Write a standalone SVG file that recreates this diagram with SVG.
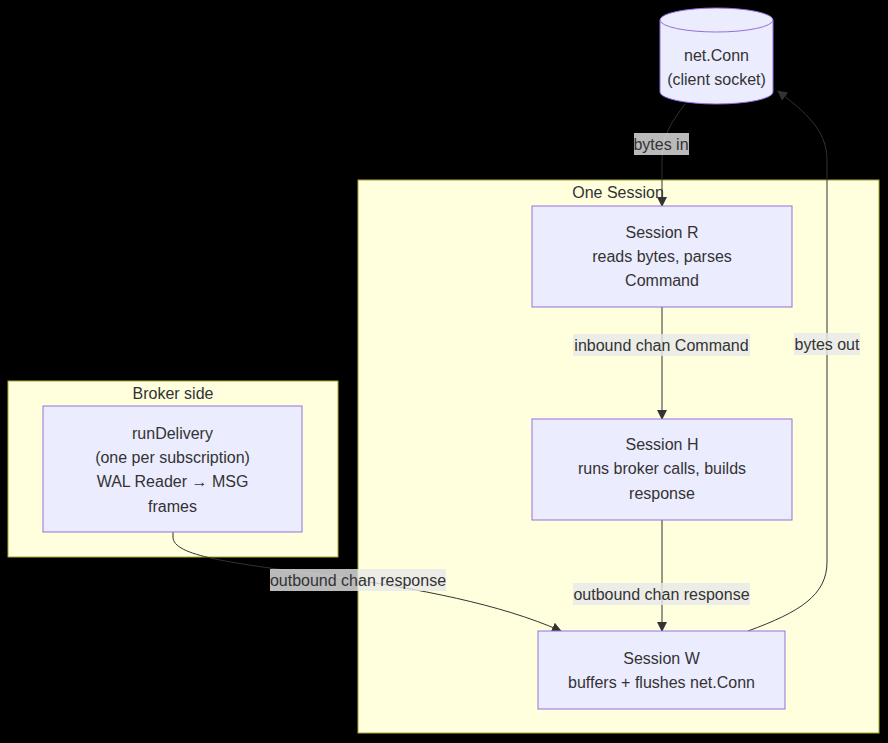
<svg xmlns="http://www.w3.org/2000/svg" width="888" height="743" viewBox="0 0 888 743">
<style>
text{font-family:"Liberation Sans",Arial,sans-serif;font-size:16px;fill:#333;text-anchor:middle}
.cl{fill:#ffffde;stroke:#aaaa33;stroke-width:1}
.nd{fill:#ececff;stroke:#9370db;stroke-width:1}
.ed{fill:none;stroke:#333;stroke-width:1;marker-end:url(#ah)}
.lb{fill:#e8e8e8;opacity:0.8}
</style>
<defs>
<marker id="ah" markerUnits="userSpaceOnUse" markerWidth="10" markerHeight="10" refX="9" refY="5" orient="auto">
<path d="M0,0 L10,5 L0,10 z" fill="#333"/>
</marker>
</defs>
<rect width="888" height="743" fill="#000"/>
<g id="cluster-session">
<rect class="cl" x="358" y="180" width="521" height="553"/>
<text x="618" y="198">One Session</text>
</g>
<g id="cluster-broker">
<rect class="cl" x="8" y="381" width="330" height="176"/>
<text x="173" y="399">Broker side</text>
</g>
<g id="connectors">
<path class="ed" d="M685,104 C672,122 662,134 662,160 L662,206"/>
<path class="ed" d="M662,307 L662,419"/>
<path class="ed" d="M662,520 L662,631"/>
<path class="ed" d="M173,532 L173,537 C173,556 230,563 330,576 C420,589 500,604 561,631"/>
<path class="ed" d="M748,631 C800,612 827,595 827,562 L827,160 C827,130 805,112 778,91"/>
</g>
<g id="edge-labels">
<rect class="lb" x="634" y="133" width="55" height="22"/>
<text x="661" y="150">bytes in</text>
<rect class="lb" x="573" y="334" width="177" height="22"/>
<text x="661.5" y="351">inbound chan Command</text>
<rect class="lb" x="573" y="583" width="177" height="22"/>
<text x="661.5" y="600">outbound chan response</text>
<rect class="lb" x="270" y="569" width="176" height="22"/>
<text x="358" y="586">outbound chan response</text>
<rect class="lb" x="794" y="333" width="66" height="22"/>
<text x="827" y="350">bytes out</text>
</g>
<g id="node-conn">
<path class="nd" d="M660,20 A56.5,12 0 0 1 773,20 L773,92 A56.5,12 0 0 1 660,92 Z"/>
<path class="nd" d="M660,20 A56.5,12 0 0 0 773,20" fill="none"/>
<text x="716.5" y="61">net.Conn</text>
<text x="716.5" y="85">(client socket)</text>
</g>
<g id="node-R">
<rect class="nd" x="532" y="206" width="260" height="101"/>
<text x="662" y="238">Session R</text>
<text x="662" y="262">reads bytes, parses</text>
<text x="662" y="286">Command</text>
</g>
<g id="node-H">
<rect class="nd" x="532" y="419" width="260" height="101"/>
<text x="662" y="450">Session H</text>
<text x="662" y="474">runs broker calls, builds</text>
<text x="662" y="499">response</text>
</g>
<g id="node-W">
<rect class="nd" x="538" y="631" width="247" height="78"/>
<text x="661.5" y="664">Session W</text>
<text x="661.5" y="688">buffers + flushes net.Conn</text>
</g>
<g id="node-delivery">
<rect class="nd" x="43" y="406" width="259" height="126"/>
<text x="172.5" y="439">runDelivery</text>
<text x="172.5" y="463">(one per subscription)</text>
<text x="172.5" y="487">WAL Reader → MSG</text>
<text x="172.5" y="512">frames</text>
</g>
</svg>
